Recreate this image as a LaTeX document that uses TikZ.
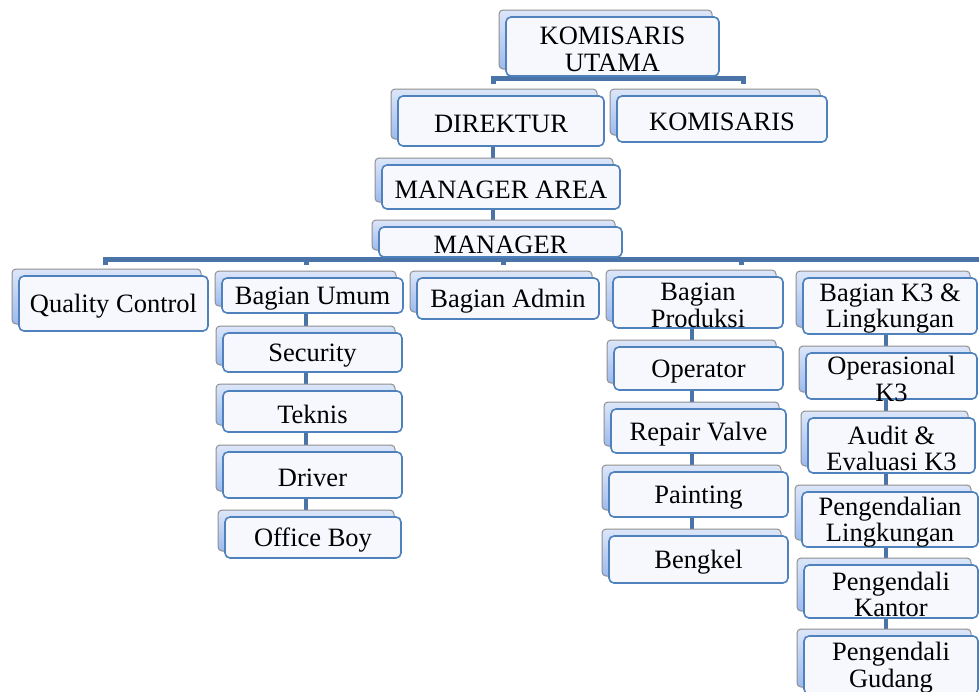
\documentclass[tikz,border=0pt]{standalone}
\usepackage{fontspec}
\setmainfont{Liberation Serif}
\usetikzlibrary{calc}
\pgfdeclarelayer{background}
\pgfsetlayers{background,main}
\definecolor{conncol}{HTML}{4A74A8}
\definecolor{frontborder}{HTML}{4F81BD}
\definecolor{frontfill}{HTML}{F6F8FD}
\definecolor{backborder}{HTML}{8F8F8F}
\definecolor{backtop}{HTML}{DCE6F9}
\definecolor{backbot}{HTML}{9DBAEE}
\tikzset{
  backbox/.style={rounded corners=2pt, draw=backborder, line width=0.5pt, top color=backtop, bottom color=backbot},
  frontbox/.style={rounded corners=2.5pt, draw=frontborder, line width=0.8pt, fill=frontfill, inner sep=0pt},
  boxtext/.style={inner sep=0pt, align=center, font=\fontsize{13.25}{13.2}\selectfont},
  conn/.style={draw=conncol, line width=2.5pt},
  colconn/.style={draw=conncol, line width=2pt},
}
\newcommand\orgbox[6]{%
  \shade[backbox] (#2-7,#3-7) rectangle (#4-7,#5-7);
  \node[frontbox, minimum width={(#4-#2)*0.5pt}, minimum height={(#5-#3)*0.5pt}] (#1) at ({(#2+#4)/2},{(#3+#5)/2}) {};
  \node[boxtext] (#1-t) at ([yshift=-1.4pt]#1.center) {#6};
}
\begin{document}
\begin{tikzpicture}[x=0.5pt,y=-0.5pt]
\path[use as bounding box] (0,0) rectangle (979,691);
\clip (0,0) rectangle (979,691);
% boxes
\orgbox{ku}{506}{17}{719}{76}{KOMISARIS\\UTAMA}
\orgbox{dir}{398}{96}{604}{146}{DIREKTUR}
\orgbox{kom}{617}{96}{827}{142}{KOMISARIS}
\orgbox{ma}{382}{165}{620}{209}{MANAGER AREA}
\orgbox{mgr}{379}{227}{622}{257}{MANAGER}
\orgbox{qc}{19}{276}{208}{331}{Quality Control}
\orgbox{umum}{222}{278}{403}{313}{Bagian Umum}
\orgbox{admin}{417}{278}{599}{319}{Bagian Admin}
\orgbox{prod}{613}{277}{783}{328}{Bagian\\Produksi}
\orgbox{kthree}{803}{278}{977}{334}{Bagian K3 \&\\Lingkungan}
\orgbox{sec}{223}{333}{402}{372}{Security}
\orgbox{tek}{223}{391}{402}{432}{Teknis}
\orgbox{drv}{223}{452}{402}{498}{Driver}
\orgbox{ob}{225}{517}{401}{558}{Office Boy}
\orgbox{opr}{614}{347}{783}{390}{Operator}
\orgbox{rv}{611}{409}{786}{453}{Repair Valve}
\orgbox{paint}{609}{472}{788}{517}{Painting}
\orgbox{beng}{609}{536}{788}{583}{Bengkel}
\orgbox{opk}{806}{353}{977}{399}{Operasional\\K3}
\orgbox{aud}{808}{418}{975}{473}{Audit \&\\Evaluasi K3}
\orgbox{pl}{802}{492}{978}{547}{Pengendalian\\Lingkungan}
\orgbox{pk}{804}{565}{978}{618}{Pengendali\\Kantor}
\orgbox{pg}{804}{636}{978}{694}{Pengendali\\Gudang}
% connectors
\coordinate (kA) at (493,84);
\coordinate (kB) at (743,84);
\coordinate (m1) at (105,265);
\coordinate (m2) at (306,265);
\coordinate (m3) at (503,265);
\coordinate (m4) at (741,265);
\coordinate (mE) at (979,259.5);
\coordinate (cU) at (306,0);
\coordinate (cP) at (692,0);
\coordinate (cK) at (886,0);
\begin{pgfonlayer}{background}
\draw[conn] (kA) |- ([yshift=-1pt]ku.south) -| (kB);
\draw[colconn] (dir.south -| kA) -- (ma.north -| kA);
\draw[colconn] (ma.south -| kA) -- (mgr.north -| kA);
\draw[conn] (mgr.south) -- (mgr.south |- mE);
\draw[conn] (m1) |- (mE);
\foreach \m in {m2,m3,m4} \draw[conn] (\m) -- (\m |- mE);
\draw[colconn] (umum.south -| cU) -- (ob.north -| cU);
\draw[colconn] (prod.south -| cP) -- (beng.north -| cP);
\draw[colconn] (kthree.south -| cK) -- (pg.north -| cK);
\end{pgfonlayer}
\end{tikzpicture}
\end{document}
